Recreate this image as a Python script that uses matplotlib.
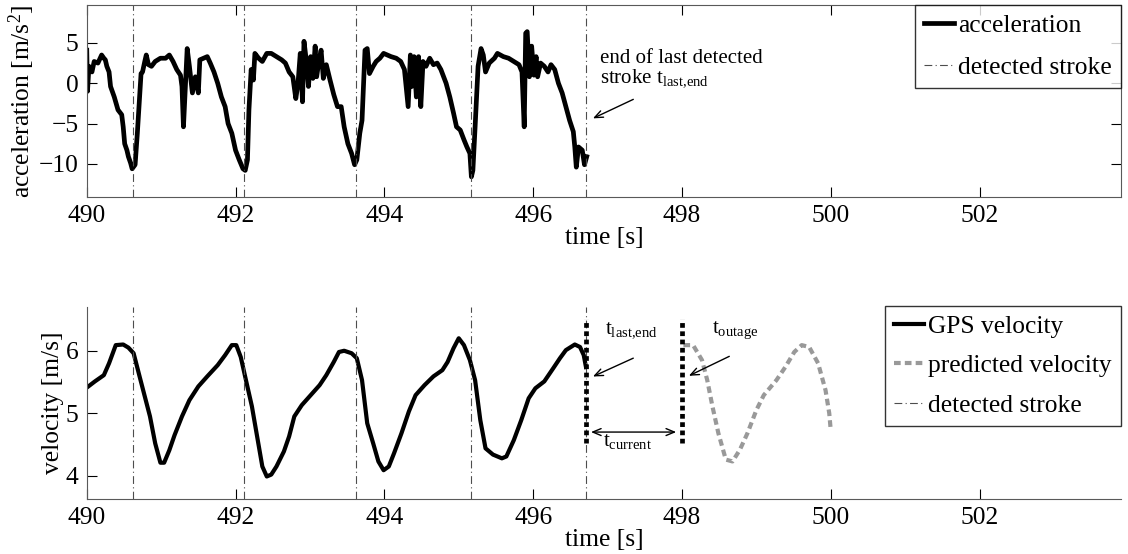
import numpy as np
import matplotlib
matplotlib.use('Agg')
import matplotlib.pyplot as plt

plt.rcParams['font.family'] = ['Liberation Serif', 'DejaVu Serif']
plt.rcParams['mathtext.fontset'] = 'custom'
plt.rcParams['mathtext.rm'] = 'Liberation Serif'
plt.rcParams['mathtext.it'] = 'Liberation Serif'
plt.rcParams['mathtext.default'] = 'rm'

# detected strokes [s]
strokes = [490.62, 492.12, 493.62, 495.17, 496.71]
t_last_end = 496.71
t_outage = 498.0

# acceleration samples
acc_t = [490.0, 490.01, 490.03, 490.07, 490.1, 490.15, 490.2, 490.23, 490.25, 490.27,
         490.3, 490.32, 490.37, 490.42, 490.47, 490.49, 490.51, 490.54, 490.56, 490.59,
         490.61, 490.65, 490.68, 490.71, 490.73, 490.75, 490.78, 490.8, 490.83, 490.87,
         490.92, 490.99, 491.06, 491.11, 491.16, 491.21, 491.26, 491.28, 491.3, 491.33,
         491.35, 491.38, 491.42, 491.46, 491.5, 491.52, 491.57, 491.62, 491.66, 491.71,
         491.76, 491.81, 491.86, 491.9, 491.95, 492.0, 492.05, 492.1, 492.13, 492.16,
         492.18, 492.21, 492.24, 492.26, 492.31, 492.36, 492.42, 492.48, 492.55, 492.62,
         492.67, 492.72, 492.77, 492.81, 492.84, 492.87, 492.9, 492.92, 492.95, 492.98,
         493.01, 493.04, 493.07, 493.09, 493.12, 493.15, 493.18, 493.22, 493.27, 493.32,
         493.37, 493.42, 493.46, 493.51, 493.56, 493.6, 493.63, 493.67, 493.7, 493.74,
         493.77, 493.8, 493.85, 493.89, 493.94, 493.99, 494.04, 494.09, 494.16, 494.22,
         494.27, 494.32, 494.35, 494.37, 494.4, 494.43, 494.46, 494.49, 494.52, 494.56,
         494.61, 494.66, 494.71, 494.76, 494.83, 494.88, 494.93, 494.97, 495.02, 495.07,
         495.11, 495.15, 495.17, 495.19, 495.22, 495.26, 495.3, 495.33, 495.36, 495.41,
         495.48, 495.52, 495.6, 495.67, 495.74, 495.81, 495.85, 495.88, 495.9, 495.92,
         495.95, 495.98, 496.01, 496.04, 496.06, 496.1, 496.15, 496.2, 496.24, 496.29,
         496.34, 496.39, 496.44, 496.49, 496.54, 496.56, 496.58, 496.61, 496.66, 496.69,
         496.72]
acc = [4.1, -1.0, 2.1, 1.4, 2.7, 2.5, 3.5, 3.1, 2.9, 2.1,
       1.4, -0.4, -1.7, -3.3, -3.9, -5.4, -7.5, -8.3, -9.1, -9.9,
       -10.6, -10.1, -6.2, -1.7, 1.2, 1.4, 2.7, 3.5, 2.3, 2.1,
       2.7, 3.1, 3.1, 3.5, 2.7, 1.7, 1.0, -0.4, -5.4, 0.4,
       4.3, 2.1, -1.2, 0.8, -1.2, 2.9, 3.1, 3.3, 2.5, 1.4,
       0.0, -1.7, -2.9, -5.0, -6.2, -8.3, -9.5, -10.6, -10.8, -9.5,
       -3.3, 1.7, 0.4, 3.7, 3.1, 2.7, 3.7, 3.7, 3.3, 2.9,
       2.5, 1.4, 0.8, -1.9, 0.0, 3.7, -2.3, 5.2, 2.9, -0.4,
       3.3, 0.6, 4.6, 0.8, 2.7, 4.1, 0.6, 2.3, 0.4, -1.4,
       -2.9, -2.9, -5.4, -7.5, -8.7, -10.1, -9.5, -6.2, -4.6, 4.1,
       4.3, 1.2, 2.1, 2.7, 3.1, 3.7, 3.5, 3.3, 3.1, 2.7,
       1.7, -2.9, 3.5, -0.4, 3.3, -1.7, 3.3, -2.9, 2.7, 2.1,
       3.1, 2.3, 2.5, 1.7, 0.0, -1.7, -3.7, -5.4, -5.8, -7.0,
       -7.9, -8.7, -11.6, -10.8, -5.4, 2.1, 4.3, 3.5, 1.4, 2.5,
       3.1, 3.7, 3.3, 3.1, 2.7, 2.3, 1.4, -5.4, 6.2, 6.4,
       0.8, 4.6, 1.0, 3.3, 0.8, 2.5, 2.1, 1.4, 2.3, 1.7,
       0.0, -1.2, -2.9, -4.6, -6.0, -7.9, -10.4, -7.9, -8.3, -10.1,
       -9.1]

# GPS velocity samples
gps_t = [490.0, 490.11, 490.23, 490.3, 490.39, 490.49, 490.56, 490.63, 490.71, 490.78,
         490.85, 490.92, 490.99, 491.04, 491.11, 491.18, 491.28, 491.38, 491.5, 491.62,
         491.76, 491.86, 491.95, 492.01, 492.07, 492.14, 492.22, 492.29, 492.36, 492.42,
         492.48, 492.55, 492.65, 492.72, 492.79, 492.89, 493.01, 493.13, 493.22, 493.32,
         493.39, 493.46, 493.56, 493.63, 493.7, 493.77, 493.85, 493.92, 493.99, 494.06,
         494.13, 494.23, 494.33, 494.42, 494.54, 494.66, 494.78, 494.85, 494.93, 495.0,
         495.07, 495.15, 495.22, 495.29, 495.36, 495.46, 495.58, 495.64, 495.74, 495.84,
         495.94, 496.03, 496.15, 496.27, 496.36, 496.44, 496.56, 496.63, 496.68, 496.71]
gps_v = [5.41, 5.51, 5.61, 5.8, 6.09, 6.1, 6.05, 5.96, 5.59, 5.27,
         4.95, 4.52, 4.21, 4.21, 4.41, 4.65, 4.95, 5.21, 5.43, 5.59,
         5.77, 5.93, 6.09, 6.09, 5.9, 5.53, 5.11, 4.63, 4.15, 3.99,
         4.02, 4.15, 4.39, 4.63, 4.95, 5.13, 5.29, 5.45, 5.61, 5.82,
         5.98, 6.0, 5.96, 5.88, 5.53, 4.84, 4.52, 4.23, 4.09, 4.15,
         4.36, 4.68, 5.03, 5.29, 5.45, 5.59, 5.69, 5.82, 6.04, 6.2,
         6.09, 5.85, 5.53, 4.89, 4.44, 4.34, 4.28, 4.31, 4.57, 4.89,
         5.24, 5.4, 5.51, 5.72, 5.88, 6.01, 6.1, 6.06, 5.93, 5.74]

# predicted velocity
pred_t = [498.02, 498.15, 498.27, 498.34, 498.41, 498.49, 498.59, 498.68, 498.78, 498.88,
          499.0, 499.1, 499.27, 499.39, 499.51, 499.61, 499.71, 499.83, 499.93, 499.98, 500.0]
pred_v = [6.09, 6.09, 5.85, 5.53, 5.11, 4.68, 4.26, 4.23, 4.42, 4.68,
          5.05, 5.29, 5.53, 5.74, 5.98, 6.09, 6.06, 5.8, 5.37, 5.0, 4.73]

# vertical extent of the marker lines in the lower panel
marker_v = [4.52, 6.5]

xticks = [490, 492, 494, 496, 498, 500, 502]
FS = 18.4
SPINE = '0.35'
STROKE_STYLE = dict(color='0.3', lw=0.8, ls=(0, (7, 3, 1, 3)))

fig = plt.figure(figsize=(11.28, 5.54), dpi=100)
ax1 = fig.add_axes([0.0769, 0.6444, 0.9168, 0.3466])
ax2 = fig.add_axes([0.0769, 0.0993, 0.9168, 0.3466])

# ---- top panel: acceleration
ax1.plot(acc_t, acc, color='black', lw=3.4, solid_joinstyle='round', label='acceleration')
for i, s in enumerate(strokes):
    ax1.axvline(s, label='detected stroke' if i == 0 else None, **STROKE_STYLE)
ax1.set_xlim(490, 503.9)
ax1.set_ylim(-14.1, 9.7)
ax1.set_xticks(xticks)
ax1.set_yticks([-10, -5, 0, 5])
ax1.set_xlabel('time [s]', fontsize=FS, labelpad=0)
ax1.set_ylabel('acceleration [m/s$^2$]', fontsize=FS, labelpad=1)
ax1.tick_params(direction='in', length=7, width=0.8, labelsize=FS, top=True, right=True, pad=6)
for sp in ax1.spines.values():
    sp.set_color(SPINE)

ax1.text(496.9, 2.5, 'end of last detected', fontsize=15, va='baseline')
ax1.text(496.9, 0.15, 'stroke t$_{last{,}end}$', fontsize=15, va='baseline')
ax1.annotate('', xy=(496.77, -4.5), xytext=(497.38, -1.85),
             arrowprops=dict(arrowstyle='->,head_length=0.6,head_width=0.25', lw=1, color='black'))

leg1 = ax1.legend(loc='upper right', bbox_to_anchor=(1, 1), borderaxespad=0, fontsize=FS,
                  handlelength=1.2, handletextpad=0.15, borderpad=0.35, labelspacing=0.75,
                  frameon=True, fancybox=False)
leg1.get_frame().set_edgecolor('black')
leg1.get_frame().set_linewidth(1)

# ---- bottom panel: velocity
ax2.plot(gps_t, gps_v, color='black', lw=3, solid_joinstyle='round', label='GPS velocity')
ax2.plot(pred_t, pred_v, color='0.6', lw=3, ls=(0, (1.6, 1.0)), label='predicted velocity')
for i, s in enumerate(strokes):
    ax2.axvline(s, label='detected stroke' if i == 0 else None, **STROKE_STYLE)
for t in [t_last_end, t_outage]:
    ax2.plot([t, t], marker_v, color='black', lw=3.4, ls=(0, (1.0, 0.75)))
ax2.set_xlim(490, 503.9)
ax2.set_ylim(3.63, 6.7)
ax2.set_xticks(xticks)
ax2.set_yticks([4, 5, 6])
ax2.set_xlabel('time [s]', fontsize=FS, labelpad=0)
ax2.set_ylabel('velocity [m/s]', fontsize=FS, labelpad=1)
ax2.tick_params(direction='in', length=7, width=0.8, labelsize=FS, pad=6)
ax2.spines['top'].set_visible(False)
ax2.spines['right'].set_visible(False)
for sp in ax2.spines.values():
    sp.set_color(SPINE)

arrow_kw = dict(arrowstyle='->,head_length=0.6,head_width=0.25', lw=1, color='black')
ax2.text(496.97, 6.28, 't$_{last{,}end}$', fontsize=15, va='baseline')
ax2.annotate('', xy=(496.77, 5.57), xytext=(497.38, 5.9), arrowprops=arrow_kw)
ax2.text(498.4, 6.28, 't$_{outage}$', fontsize=15, va='baseline')
ax2.annotate('', xy=(498.06, 5.58), xytext=(498.67, 5.93), arrowprops=arrow_kw)
ax2.annotate('', xy=(496.74, 4.70), xytext=(497.96, 4.70),
             arrowprops=dict(arrowstyle='<->,head_length=0.6,head_width=0.25', lw=1, color='black'))
ax2.text(496.94, 4.47, 't$_{current}$', fontsize=15, va='baseline')

leg2 = ax2.legend(loc='upper right', bbox_to_anchor=(1, 1.005), borderaxespad=0, fontsize=FS,
                  handlelength=1.2, handletextpad=0.15, borderpad=0.35, labelspacing=0.65,
                  frameon=True, fancybox=False)
leg2.get_frame().set_edgecolor('black')
leg2.get_frame().set_linewidth(1)

fig.savefig('out.png', dpi=100)
